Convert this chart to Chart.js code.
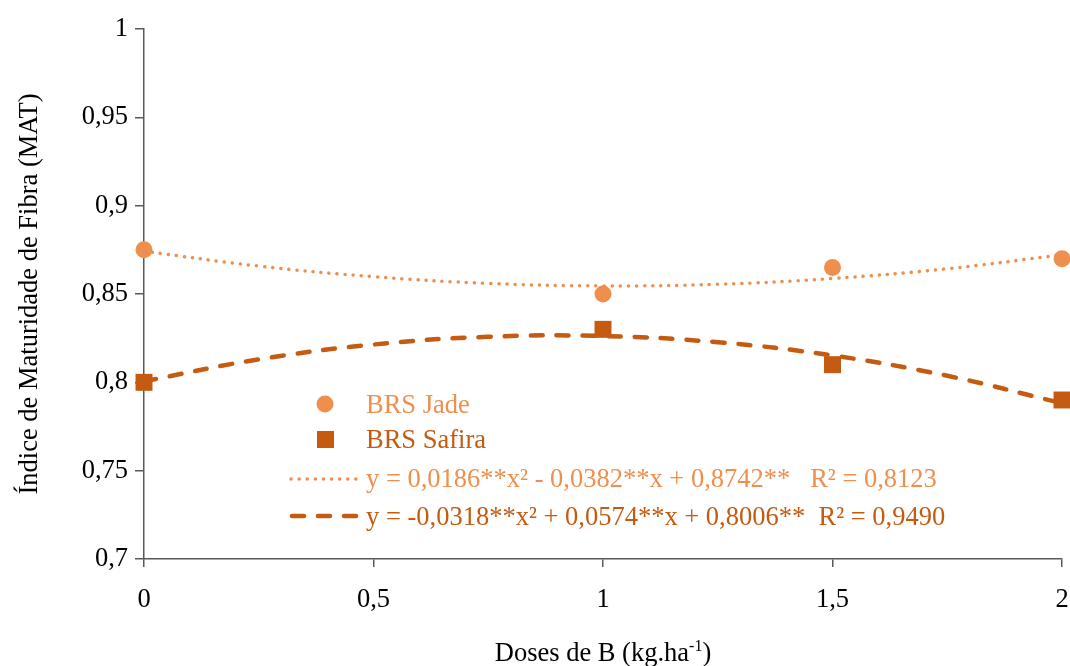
<!DOCTYPE html>
<html>
<head>
<meta charset="utf-8">
<script src="https://cdn.jsdelivr.net/npm/chart.js@4/dist/chart.umd.min.js"></script>
<style>
  html, body { margin: 0; padding: 0; background: #fff; }
  #wrap { position: relative; width: 1070px; height: 666px; font-family: "Liberation Serif", "Times New Roman", serif; }
  canvas { position: absolute; left: 0; top: 0; }
  .lg { position: absolute; font-size: 26.5px; line-height: 30px; white-space: pre; }
  .xt { position: absolute; left: 0; width: 1206px; text-align: center; top: 635px; font-size: 26.5px; line-height: 34px; color: #000; }
  .xt sup { font-size: 16px; vertical-align: 0; position: relative; top: -10px; }
</style>
</head>
<body>
<div id="wrap">
  <canvas id="c" width="1070" height="666"></canvas>
  <svg width="1070" height="666" style="position:absolute;left:0;top:0;pointer-events:none">
    <circle cx="325" cy="404" r="8.5" fill="#EE8F4E"/>
    <rect x="317" y="431" width="17" height="17" fill="#C55A11"/>
    <line x1="291" y1="479" x2="360" y2="479" stroke="#EE8F4E" stroke-width="3.5" stroke-linecap="round" stroke-dasharray="0.1 8"/>
    <line x1="292" y1="516" x2="356" y2="516" stroke="#C55A11" stroke-width="4.5" stroke-linecap="round" stroke-dasharray="12 14"/>
  </svg>
  <div class="lg" style="left:366px;top:389px;color:#EE8F4E">BRS Jade</div>
  <div class="lg" style="left:366px;top:424px;color:#C55A11">BRS Safira</div>
  <div class="lg" style="left:366px;top:463px;color:#EE8F4E">y = 0,0186**x² - 0,0382**x + 0,8742**   R² = 0,8123</div>
  <div class="lg" style="left:366px;top:501px;color:#C55A11">y = -0,0318**x² + 0,0574**x + 0,8006**  R² = 0,9490</div>
  <div class="xt">Doses de B (kg.ha<sup>-1</sup>)</div>
</div>
<script>
// Observed data
const doses = [0, 1, 1.5, 2];
const jade = [0.875, 0.85, 0.865, 0.87];
const safira = [0.80, 0.83, 0.81, 0.79];

// Trend curves
const trendX = [0, 0.25, 0.5, 0.75, 1, 1.25, 1.5, 1.75, 2];
const jadeTrend = [0.8742, 0.8658, 0.8598, 0.8560, 0.8546, 0.8555, 0.8588, 0.8643, 0.8722];
const safiraTrend = [0.8006, 0.8130, 0.8214, 0.8258, 0.8262, 0.8227, 0.8152, 0.8037, 0.7882];

// Tick labels
const yTickValues = [0.7, 0.75, 0.8, 0.85, 0.9, 0.95, 1];
const yTickLabels = ['0,7', '0,75', '0,8', '0,85', '0,9', '0,95', '1'];
const xTickValues = [0, 0.5, 1, 1.5, 2];
const xTickLabels = ['0', '0,5', '1', '1,5', '2'];

const cJade = '#EE8F4E';
const cSafira = '#C55A11';
const FONT = { family: '"Liberation Serif", "Times New Roman", serif', size: 26.5 };

const pts = (xs, ys) => xs.map((x, i) => ({ x: x, y: ys[i] }));

new Chart(document.getElementById('c'), {
  type: 'scatter',
  data: {
    datasets: [
      { label: 'Jade trend', data: pts(trendX, jadeTrend), showLine: true, borderColor: cJade, clip: false,
        borderWidth: 3.5, borderDash: [0.1, 8], borderCapStyle: 'round', pointRadius: 0, tension: 0.4, order: 1 },
      { label: 'Safira trend', data: pts(trendX, safiraTrend), showLine: true, borderColor: cSafira, clip: false,
        borderWidth: 4.5, borderDash: [12, 14], borderCapStyle: 'round', pointRadius: 0, tension: 0.4, order: 2 },
      { label: 'BRS Jade', data: pts(doses, jade), pointStyle: 'circle', pointRadius: 8.5, clip: false,
        backgroundColor: cJade, borderColor: cJade, borderWidth: 0, order: 3 },
      { label: 'BRS Safira', data: pts(doses, safira), pointStyle: 'rect', pointRadius: 12, clip: false,
        backgroundColor: cSafira, borderColor: cSafira, borderWidth: 0, order: 4 }
    ]
  },
  options: {
    responsive: false,
    animation: false,
    layout: { autoPadding: false, padding: { top: 29, right: 8, left: 0, bottom: 0 } },
    plugins: { legend: { display: false }, tooltip: { enabled: false } },
    scales: {
      x: {
        type: 'linear', min: 0, max: 2,
        afterBuildTicks: s => { s.ticks = xTickValues.map(v => ({ value: v })); },
        afterFit: s => { s.height = 107; s.paddingRight = 0; s.paddingLeft = 0; },
        ticks: { color: '#000', font: FONT, padding: 17, maxRotation: 0,
          callback: (v) => xTickLabels[xTickValues.indexOf(v)] },
        grid: { display: true, drawOnChartArea: false, drawTicks: true, tickLength: 8, color: '#595959', lineWidth: 1.5 },
        border: { display: true, color: '#595959', width: 1.5 },
        title: { display: false }
      },
      y: {
        type: 'linear', min: 0.7, max: 1,
        afterBuildTicks: s => { s.ticks = yTickValues.map(v => ({ value: v })); },
        afterFit: s => { s.width = 144; s.paddingTop = 0; s.paddingBottom = 0; },
        ticks: { color: '#000', font: FONT, padding: 7,
          callback: (v) => yTickLabels[yTickValues.indexOf(v)] },
        grid: { display: true, drawOnChartArea: false, drawTicks: true, tickLength: 9, color: '#595959', lineWidth: 1.5 },
        border: { display: true, color: '#595959', width: 1.5 },
        title: { display: true, text: 'Índice de Maturidade de Fibra (MAT)', color: '#000', font: FONT,
          padding: { top: 14, bottom: 0 } }
      }
    }
  }
});
</script>
</body>
</html>
